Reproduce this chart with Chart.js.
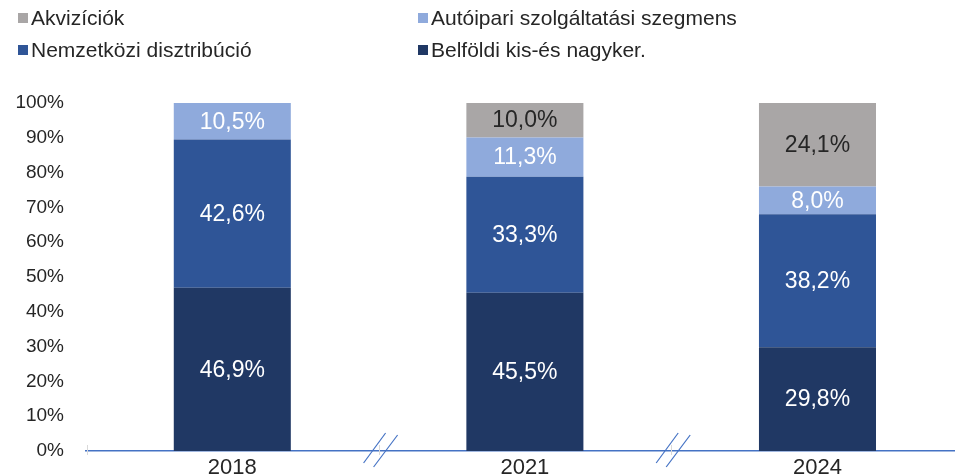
<!DOCTYPE html>
<html>
<head>
<meta charset="utf-8">
<script src="https://cdn.jsdelivr.net/npm/chart.js@4"></script>
<style>
    body { margin: 0; background: #fff; }
    #wrap { position: relative; width: 955px; height: 476px; }
    #legend { position: absolute; left: 0; top: 0; width: 955px; font: 21px "Liberation Sans", Arial, sans-serif; color: #262626; }
    .item { position: absolute; display: flex; align-items: center; white-space: nowrap; line-height: 24px; }
    .box { width: 10px; height: 10px; margin-right: 3px; }
</style>
</head>
<body>
<div id="wrap">
    <canvas id="chart" width="955" height="476"></canvas>
    <div id="legend"></div>
</div>
<script>
const years = ['2018', '2021', '2024']
const belfoldi = [46.9, 45.5, 29.8]
const nemzetkozi = [42.6, 33.3, 38.2]
const autoipari = [10.5, 11.3, 8.0]
const akviziciok = [0, 10.0, 24.1]
const yTicks = [0, 10, 20, 30, 40, 50, 60, 70, 80, 90, 100]

const datasets = [
    {label: 'Belföldi kis-és nagyker.', values: belfoldi, color: '#203864', text: '#ffffff'},
    {label: 'Nemzetközi disztribúció', values: nemzetkozi, color: '#2f5597', text: '#ffffff'},
    {label: 'Autóipari szolgáltatási szegmens', values: autoipari, color: '#8faadc', text: '#ffffff'},
    {label: 'Akvizíciók', values: akviziciok, color: '#a9a6a6', text: '#262626'}
]

// legend, two columns like the original
const legendOrder = [
    {idx: 3, left: 18, top: 6},
    {idx: 2, left: 418, top: 6},
    {idx: 1, left: 18, top: 38},
    {idx: 0, left: 418, top: 38}
]
const legend = document.getElementById('legend')
legendOrder.forEach(({idx, left, top}) => {
    const d = datasets[idx]
    const el = document.createElement('div')
    el.className = 'item'
    el.style.left = left + 'px'
    el.style.top = top + 'px'
    el.innerHTML = '<span class="box" style="background:' + d.color + '"></span>' + d.label
    legend.appendChild(el)
})

const fmt = v => v.toFixed(1).replace('.', ',') + '%'

const labelPlugin = {
    id: 'segLabels',
    afterDatasetsDraw(chart) {
        const ctx = chart.ctx
        ctx.save()
        ctx.font = '23px "Liberation Sans", Arial, sans-serif'
        ctx.textAlign = 'center'
        ctx.textBaseline = 'middle'
        chart.data.datasets.forEach((ds, i) => {
            const meta = chart.getDatasetMeta(i)
            meta.data.forEach((bar, j) => {
                const v = ds.data[j].y
                if (!v) return
                ctx.fillStyle = datasets[i].text
                ctx.fillText(fmt(v), bar.x, (bar.y + bar.base) / 2 + 1)
            })
        })
        ctx.restore()
    }
}

// the two "//" axis break marks between the years
const breakPlugin = {
    id: 'axisBreaks',
    afterDraw(chart) {
        const ctx = chart.ctx
        const x = chart.scales.x
        const yPix = chart.chartArea.bottom
        ctx.save()
        ctx.strokeStyle = '#d9d9d9'
        ctx.lineWidth = 1
        ;[x.left + 0.5, x.getPixelForValue(0.5), x.getPixelForValue(1.5)].forEach(px => {
            ctx.beginPath()
            ctx.moveTo(Math.round(px) + 0.5, yPix - 6)
            ctx.lineTo(Math.round(px) + 0.5, yPix + 4)
            ctx.stroke()
        })
        ctx.strokeStyle = '#4472c4'
        ctx.lineWidth = 1.2
        ;[0.5, 1.5].forEach(v => {
            const px = x.getPixelForValue(v)
            ;[[-15, 12, 7, -18], [-5, 16, 19, -16]].forEach(([x1, y1, x2, y2]) => {
                ctx.beginPath()
                ctx.moveTo(px + x1, yPix + y1)
                ctx.lineTo(px + x2, yPix + y2)
                ctx.stroke()
            })
        })
        ctx.restore()
    }
}

new Chart(document.getElementById('chart'), {
    type: 'bar',
    data: {
        datasets: datasets.map(d => ({
            label: d.label,
            data: d.values.map((v, i) => ({x: i, y: v})),
            backgroundColor: d.color,
            borderWidth: 0,
            barPercentage: 0.4,
            categoryPercentage: 1
        }))
    },
    options: {
        responsive: false,
        animation: false,
        layout: {padding: {top: 103, left: 0, right: 0, bottom: 0}},
        plugins: {legend: {display: false}, tooltip: {enabled: false}},
        scales: {
            x: {
                type: 'linear',
                stacked: true,
                offset: false,
                min: -0.5,
                max: 2.47,
                afterBuildTicks: s => { s.ticks = years.map((y, i) => ({value: i})) },
                afterFit: s => { s.height = 25 },
                grid: {display: false, drawTicks: false},
                border: {display: true, color: '#4472c4', width: 1.5},
                ticks: {
                    callback: v => years[v],
                    color: '#262626',
                    maxRotation: 0,
                    font: {family: '"Liberation Sans", Arial, sans-serif', size: 22, lineHeight: 1},
                    padding: 6
                }
            },
            y: {
                stacked: true,
                min: 0,
                max: 100,
                afterBuildTicks: s => { s.ticks = yTicks.map(v => ({value: v})) },
                afterFit: s => {
                    s.width = 86
                    s.paddingTop = 0
                    s.paddingBottom = 0
                },
                grid: {display: false, drawTicks: false},
                border: {display: false},
                ticks: {
                    callback: v => v + '%',
                    color: '#262626',
                    font: {family: '"Liberation Sans", Arial, sans-serif', size: 19},
                    padding: 22
                }
            }
        }
    },
    plugins: [labelPlugin, breakPlugin]
})
</script>
</body>
</html>
